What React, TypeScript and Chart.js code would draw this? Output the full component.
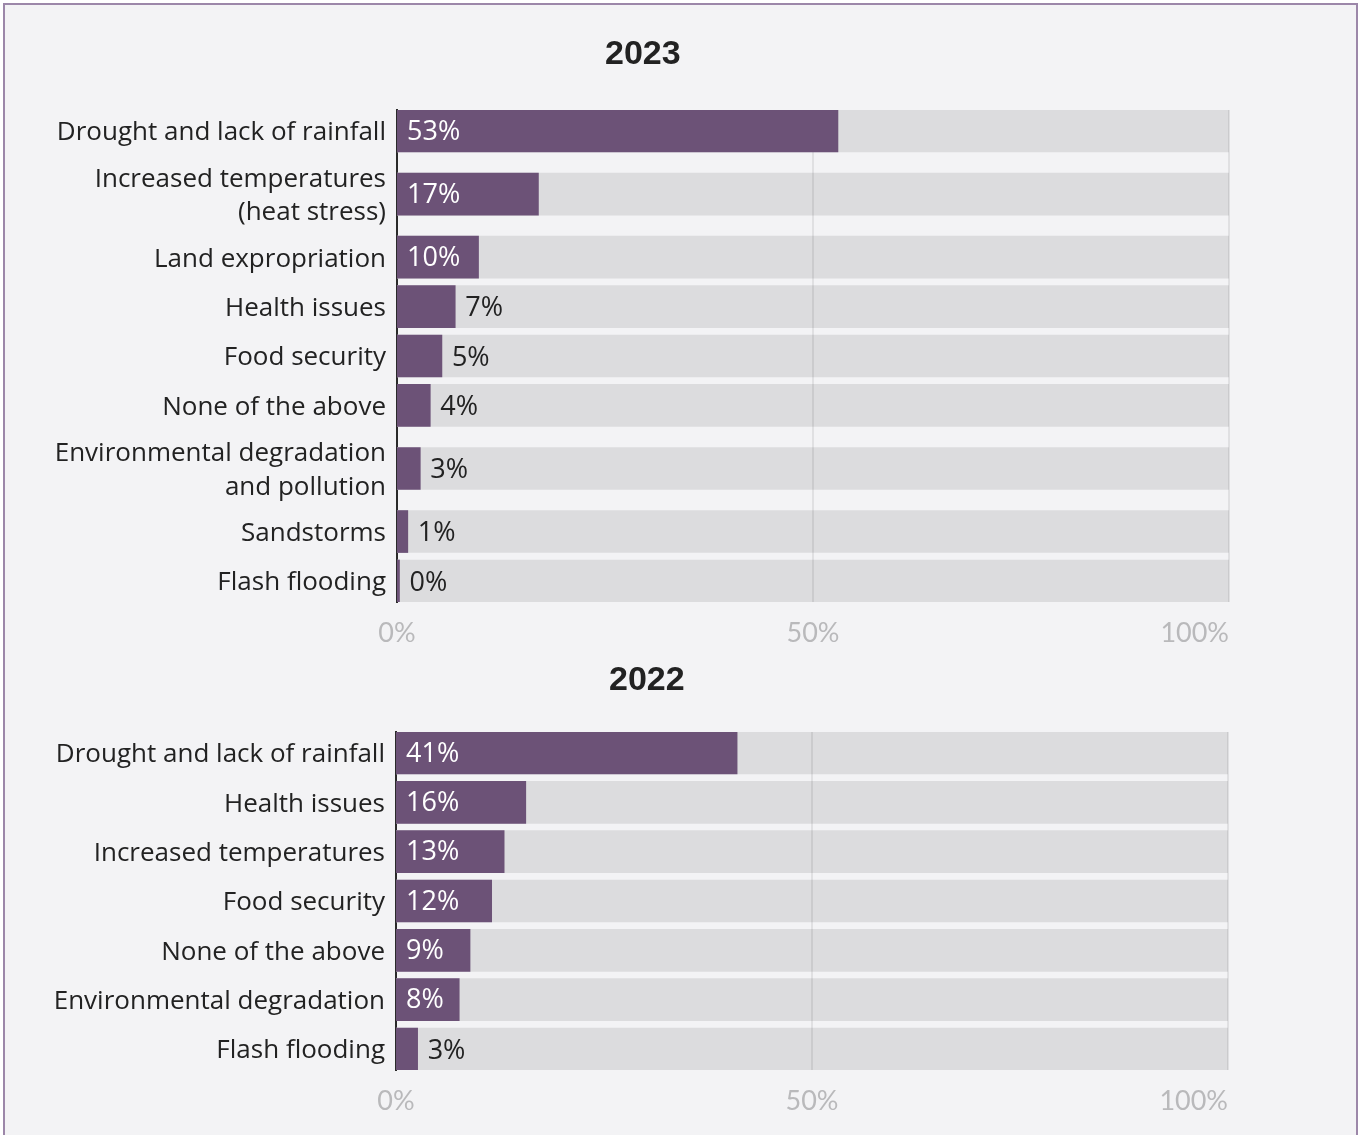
import React, { useEffect, useRef } from "react";
import { Chart, registerables } from "chart.js";

Chart.register(...registerables);

// ---------- data ----------
const title2023 = "2023";
const labels2023: string[][] = [
  ["Drought and lack of rainfall"],
  ["Increased temperatures", "(heat stress)"],
  ["Land expropriation"],
  ["Health issues"],
  ["Food security"],
  ["None of the above"],
  ["Environmental degradation", "and pollution"],
  ["Sandstorms"],
  ["Flash flooding"],
];
const values2023 = [53, 17, 9.8, 7, 5.4, 4, 2.8, 1.3, 0.3];

const title2022 = "2022";
const labels2022: string[][] = [
  ["Drought and lack of rainfall"],
  ["Health issues"],
  ["Increased temperatures"],
  ["Food security"],
  ["None of the above"],
  ["Environmental degradation"],
  ["Flash flooding"],
];
const values2022 = [41, 15.6, 13, 11.5, 8.9, 7.6, 2.6];

const xTickValues = [0, 50, 100];
const totalValue = 100;

// ---------- style ----------
const PURPLE = "#6c5277";
const TRACK = "#dcdcde";
const TEXT = "#222222";
const TICK_GRAY = "#b9b9bb";
const LABEL_FONT = "'Open Sans', 'Noto Sans', sans-serif";
const LABEL_SIZE = 26;
const TICK_FONT = "Lato, 'Open Sans', sans-serif";
const TITLE_FONT = "'Liberation Sans', Arial, sans-serif";
const DOUBLE_ROW = 1.55; // relative height of a row with a two-line label
const BAR_HALF = 0.425; // half bar thickness in row units
const INSIDE_MIN = 7.5; // values at or above this get their label inside the bar

function rowCenters(labels: string[][]) {
  const centers: number[] = [];
  let acc = 0;
  for (const l of labels) {
    const w = l.length > 1 ? DOUBLE_ROW : 1;
    centers.push(acc + w / 2);
    acc += w;
  }
  return centers;
}

type PanelProps = {
  title: string;
  labels: string[][];
  values: number[];
  left: number;
  top: number;
  width: number;
  height: number;
  padTop: number;
  padBottom: number;
  padRight: number;
  axisWidth: number;
  titleGap: number;
  titleDx: number;
};

function Panel(p: PanelProps) {
  const ref = useRef<HTMLCanvasElement | null>(null);
  useEffect(() => {
    if (!ref.current) return;
    const centers = rowCenters(p.labels);
    const min = centers[0] - BAR_HALF;
    const max = centers[centers.length - 1] + BAR_HALF;

    const overlay = {
      id: "overlay",
      afterDatasetDraw(chart: any, args: any) {
        if (args.index !== 0) return;
        const { ctx, chartArea } = chart;
        const xs = chart.scales.x;
        ctx.save();
        ctx.strokeStyle = "rgba(0,0,0,0.075)";
        ctx.lineWidth = 2;
        for (const v of [50, 100]) {
          const x = Math.round(xs.getPixelForValue(v));
          ctx.beginPath();
          ctx.moveTo(x, chartArea.top);
          ctx.lineTo(x, chartArea.bottom);
          ctx.stroke();
        }
        ctx.restore();
      },
      afterDatasetsDraw(chart: any) {
        const { ctx, chartArea } = chart;
        const meta = chart.getDatasetMeta(1);
        ctx.save();
        ctx.font = `27px ${LABEL_FONT}`;
        ctx.textBaseline = "middle";
        ctx.textAlign = "left";
        meta.data.forEach((el: any, i: number) => {
          const { x, base, y } = el.getProps(["x", "base", "y"], true);
          const v = p.values[i];
          const txt = `${Math.round(v)}%`;
          if (v >= INSIDE_MIN) {
            ctx.fillStyle = "#ffffff";
            ctx.fillText(txt, base + 10, y + 1);
          } else {
            ctx.fillStyle = TEXT;
            ctx.fillText(txt, x + 10, y + 2);
          }
        });
        // x tick labels
        const xs = chart.scales.x;
        ctx.font = `27px ${TICK_FONT}`;
        ctx.fillStyle = TICK_GRAY;
        xTickValues.forEach((t, i) => {
          const px = xs.getPixelForValue(t);
          ctx.textAlign = i === xTickValues.length - 1 ? "right" : "center";
          ctx.fillText(`${t}%`, px, chartArea.bottom + 31);
        });
        // title centred over labels + plot
        ctx.font = `${LABEL_SIZE}px ${LABEL_FONT}`;
        let widest = 0;
        p.labels.forEach((l) => l.forEach((s) => (widest = Math.max(widest, ctx.measureText(s).width))));
        const leftEdge = chartArea.left - 11 - widest;
        ctx.font = `bold 34px ${TITLE_FONT}`;
        ctx.fillStyle = TEXT;
        ctx.textAlign = "center";
        ctx.fillText(p.title, (leftEdge + chartArea.right) / 2 + p.titleDx, chartArea.top - p.titleGap);
        ctx.restore();
      },
    };

    const chart = new Chart(ref.current, {
      type: "bar",
      data: {
        datasets: [
          {
            data: centers.map((c) => ({ x: totalValue, y: c })),
            backgroundColor: TRACK,
            barThickness: 42,
            grouped: false,
            order: 2,
          } as any,
          {
            data: centers.map((c, i) => ({ x: p.values[i], y: c })),
            backgroundColor: PURPLE,
            barThickness: 42,
            grouped: false,
            order: 1,
          } as any,
        ],
      },
      options: {
        indexAxis: "y",
        animation: false,
        responsive: false,
        maintainAspectRatio: false,
        layout: { padding: { top: p.padTop, bottom: p.padBottom, left: 0, right: p.padRight } },
        scales: {
          x: { type: "linear", min: 0, max: totalValue, display: false },
          y: {
            type: "linear",
            reverse: true,
            offset: false,
            min,
            max,
            afterBuildTicks: (s: any) => {
              s.ticks = centers.map((v) => ({ value: v }));
            },
            afterFit: (s: any) => {
              s.width = p.axisWidth;
            },
            grid: { display: false, drawTicks: false, offset: false },
            border: { display: true, color: "#2a2a2a", width: 2 },
            ticks: {
              autoSkip: false,
              padding: 11,
              labelOffset: 2,
              color: TEXT,
              font: { family: LABEL_FONT, size: LABEL_SIZE, lineHeight: 1.3 },
              callback: (_v: any, i: number) => p.labels[i],
            },
          } as any,
        },
        plugins: {
          legend: { display: false },
          tooltip: { enabled: false },
          title: { display: false },
        },
      } as any,
      plugins: [overlay],
    });
    return () => chart.destroy();
  }, []);
  return (
    <canvas
      ref={ref}
      width={p.width}
      height={p.height}
      style={{ position: "absolute", left: p.left, top: p.top, width: p.width, height: p.height }}
    />
  );
}

export default function App() {
  useEffect(() => {
    document.body.style.overflow = "hidden";
  }, []);
  return (
    <div
      style={{
        position: "absolute",
        left: 3,
        top: 3,
        width: 1355,
        height: 1132,
        boxSizing: "border-box",
        border: "2px solid #9c87a9",
        borderBottom: "none",
        background: "#f3f3f5",
        overflow: "hidden",
      }}
    >
      <Panel
        title={title2023}
        labels={labels2023}
        values={values2023}
        left={0}
        top={0}
        width={1350}
        height={650}
        padTop={105}
        padBottom={53}
        padRight={126}
        axisWidth={392}
        titleGap={55}
        titleDx={1}
      />
      <Panel
        title={title2022}
        labels={labels2022}
        values={values2022}
        left={0}
        top={650}
        width={1350}
        height={480}
        padTop={77}
        padBottom={65}
        padRight={127}
        axisWidth={391}
        titleGap={51}
        titleDx={6}
      />
    </div>
  );
}
